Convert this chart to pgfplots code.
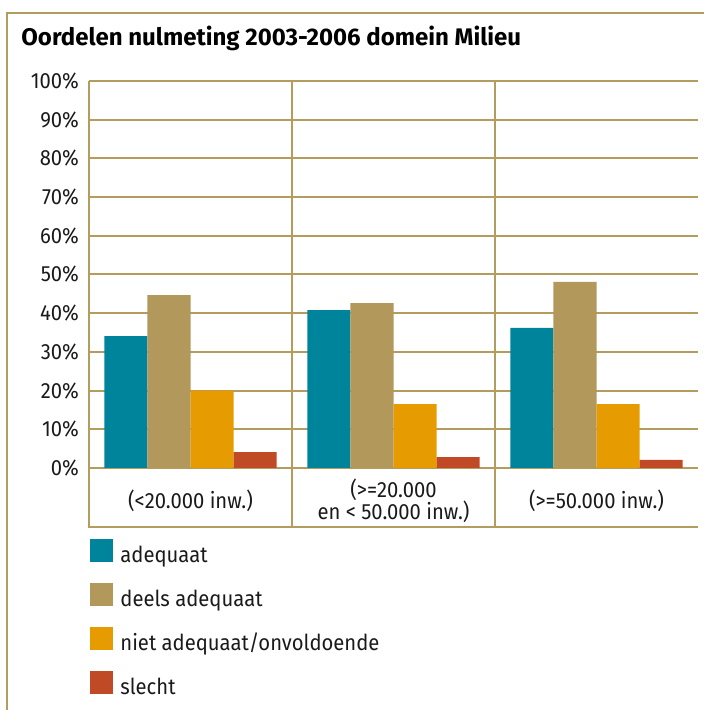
\documentclass[border=0pt]{standalone}
\usepackage{fontspec}
\setmainfont{Fira Sans}[FakeStretch=0.92]
\newfontfamily\titlefont{Fira Sans}
\usepackage{pgfplots}
\pgfplotsset{compat=1.18}

\definecolor{cteal}{HTML}{00849B}
\definecolor{ctan}{HTML}{B2985A}
\definecolor{corange}{HTML}{E69C00}
\definecolor{cred}{HTML}{C04926}
\definecolor{gridc}{HTML}{B49B5E}
\definecolor{txt}{HTML}{1A1A1A}

\begin{document}
\begin{tikzpicture}
\begin{scope}[x=0.5pt,y=0.5pt]
% frame
\draw[gridc, line width=1pt] (7,0) -- (7,697) -- (704,697);
\node[anchor=base west, inner sep=0, text=black, font=\titlefont\bfseries\fontsize{12}{14}\selectfont]
  at (21,664) {Oordelen nulmeting 2003-2006 domein Milieu};
\end{scope}

\begin{axis}[
    at={(44.5pt,121pt)}, anchor=south west,
    scale only axis,
    width=304.5pt, height=193.5pt,
    xmin=-0.5, xmax=2.5,
    ymin=0, ymax=100,
    ybar, bar width=0.212,
    clip=false,
    axis line style={draw=none},
    major tick length=0pt,
    ytick={0,10,...,100},
    yticklabel={\pgfmathprintnumber{\tick}\%},
    /pgf/number format/assume math mode=true,
    ymajorgrids,
    grid style={gridc, line width=1pt},
    xtick={0,1,2},
    xticklabels={(<20.000 inw.),{(>=20.000\\en < 50.000 inw.)},(>=50.000 inw.)},
    xticklabel style={align=center, anchor=center, yshift=-16.5pt},
    yticklabel style={xshift=-1.5pt},
    tick label style={font=\fontsize{11}{11}\selectfont, text=txt},
    legend style={at={(0,0)}, anchor=north west, yshift=-35.5pt, xshift=0.5pt,
        draw=none, fill=none, inner sep=0pt, row sep=10.5pt,
        font=\fontsize{11}{13}\selectfont, text=txt,
        nodes={inner sep=0pt, text height=11.5pt, text depth=0pt},
        /tikz/every odd column/.append style={column sep=3.5pt}},
    legend cell align=left,
    legend image code/.code={\fill[#1] (0pt,-5.75pt) rectangle (11.5pt,5.75pt);},
]
\addplot[fill=cteal, draw=none, bar shift=-0.318] coordinates {(0,34.1) (1,40.8) (2,36.2)};
\addplot[fill=ctan, draw=none, bar shift=-0.106] coordinates {(0,44.7) (1,42.6) (2,48.1)};
\addplot[fill=corange, draw=none, bar shift=0.106] coordinates {(0,20.0) (1,16.5) (2,16.5)};
\addplot[fill=cred, draw=none, bar shift=0.318] coordinates {(0,4.1) (1,2.8) (2,2.1)};
\legend{adequaat, deels adequaat, niet adequaat/onvoldoende, slecht}
% category box
\draw[gridc, line width=1pt] (axis cs:-0.5,100) -- ([yshift=-29.5pt]axis cs:-0.5,0) -- ([yshift=-29.5pt]axis cs:2.5,0);
\draw[gridc, line width=1pt] (axis cs:0.5,100) -- ([yshift=-29.5pt]axis cs:0.5,0);
\draw[gridc, line width=1pt] (axis cs:1.5,100) -- ([yshift=-29.5pt]axis cs:1.5,0);
\end{axis}
\pgfresetboundingbox
\path[use as bounding box] (0,0) rectangle (352pt,355pt);
\end{tikzpicture}
\end{document}
